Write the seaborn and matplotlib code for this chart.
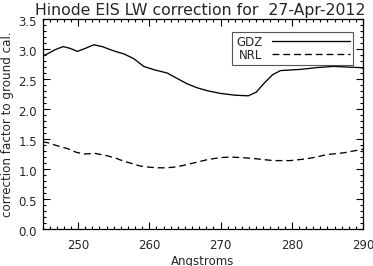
import numpy as np
import pandas as pd
import matplotlib
matplotlib.use("Agg")
import matplotlib.pyplot as plt
from matplotlib.ticker import MultipleLocator, FormatStrFormatter
from matplotlib.transforms import ScaledTranslation
import seaborn as sns

title = "Hinode EIS LW correction for  27-Apr-2012"
xlabel = "Angstroms"
ylabel = "correction factor to ground cal."

gdz_wave = [245.0, 245.7, 246.8, 247.9, 248.9, 249.9, 251.0, 252.2, 253.4, 254.5, 255.5, 256.4,
            257.8, 259.2, 260.8, 262.5, 263.9, 265.3, 266.8, 268.3, 270.0, 272.0, 273.9, 275.0,
            276.2, 277.3, 278.4, 279.8, 281.2, 283.5, 285.8, 287.7, 289.6, 290.0]
gdz_val = [2.88, 2.92, 2.99, 3.04, 3.01, 2.96, 3.01, 3.07, 3.04, 2.99, 2.95, 2.92,
           2.84, 2.71, 2.65, 2.60, 2.51, 2.42, 2.35, 2.30, 2.26, 2.23, 2.22, 2.28,
           2.44, 2.57, 2.64, 2.65, 2.66, 2.69, 2.71, 2.70, 2.69, 2.68]

nrl_wave = [245.0, 245.7, 247.0, 248.5, 249.7, 250.8, 252.4, 254.1, 255.3, 256.4, 257.6, 258.7,
            260.0, 261.1, 262.3, 263.4, 264.8, 266.2, 268.3, 270.0, 271.4, 272.8, 274.2, 275.8,
            277.4, 279.8, 282.1, 283.5, 284.9, 287.3, 289.1, 290.0]
nrl_val = [1.45, 1.44, 1.39, 1.34, 1.28, 1.25, 1.26, 1.22, 1.18, 1.13, 1.09, 1.05,
           1.03, 1.02, 1.02, 1.03, 1.06, 1.10, 1.16, 1.19, 1.20, 1.19, 1.18, 1.16,
           1.14, 1.14, 1.17, 1.20, 1.24, 1.27, 1.31, 1.33]

df = pd.concat([
    pd.DataFrame({"wave": gdz_wave, "val": gdz_val, "model": "GDZ"}),
    pd.DataFrame({"wave": nrl_wave, "val": nrl_val, "model": "NRL"}),
])

sns.set_style("ticks")
plt.rcParams['font.family'] = ['DejaVu Sans']

fig = plt.figure(figsize=(3.73, 2.66), dpi=100)
ax = fig.add_axes([42.5 / 373, 1 - 229 / 266, (363 - 42.5) / 373, (229 - 19) / 266])

sns.lineplot(data=df, x="wave", y="val", style="model", color="black", linewidth=0.95,
             dashes={"GDZ": "", "NRL": (5.2, 3.0)}, sort=False, estimator=None, ax=ax)

ax.set_xlim(245, 290)
ax.set_ylim(0, 3.5)
ax.xaxis.set_major_locator(MultipleLocator(10))
ax.xaxis.set_minor_locator(MultipleLocator(1))
ax.yaxis.set_major_locator(MultipleLocator(0.5))
ax.yaxis.set_minor_locator(MultipleLocator(0.1))
ax.yaxis.set_major_formatter(FormatStrFormatter('%.1f'))
ax.tick_params(which='both', direction='in', top=True, right=True, color='black',
               width=0.8, labelsize=8.5)
ax.tick_params(axis='y', pad=4)
ax.tick_params(axis='x', pad=7)
ax.tick_params(which='major', length=5)
ax.tick_params(which='minor', length=2.5)
for s in ax.spines.values():
    s.set_color('black')
    s.set_linewidth(0.9)

shift = ScaledTranslation(0, -2.0 / 100, fig.dpi_scale_trans)
for lab in ax.get_yticklabels():
    lab.set_transform(lab.get_transform() + shift)

ax.set_title(title, fontsize=11.3, pad=3, x=0.491)
ax.set_xlabel(xlabel, fontsize=8.5, labelpad=2)
ax.set_ylabel(ylabel, fontsize=8.6)
ax.yaxis.set_label_coords(-0.09, 0.5)

leg = ax.legend(title=None, loc='upper right', bbox_to_anchor=(0.969, 0.938),
                borderaxespad=0, markerfirst=False, handlelength=6.6, fontsize=8.5,
                frameon=True, fancybox=False, framealpha=1, edgecolor='#555555',
                borderpad=0.3, labelspacing=0.0, handletextpad=0.8)
leg.get_frame().set_linewidth(0.8)

fig.savefig("out.png", dpi=100)
